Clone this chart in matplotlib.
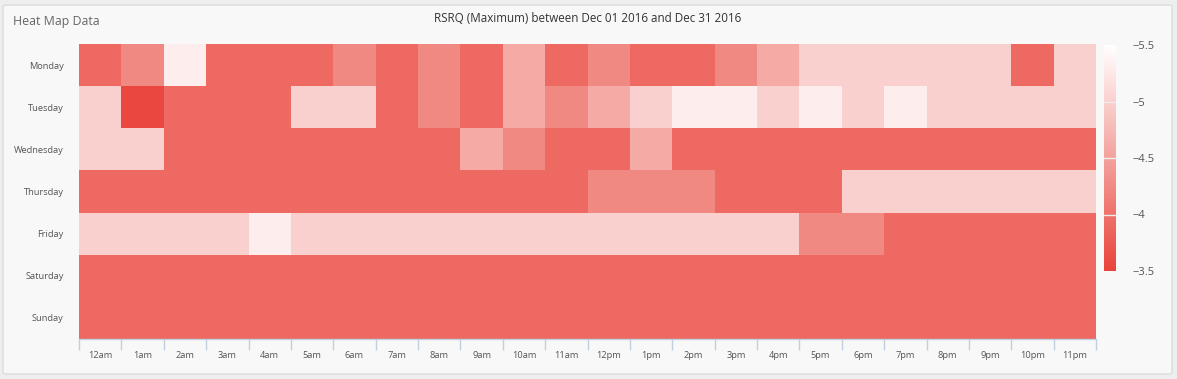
import numpy as np
import matplotlib

matplotlib.use("Agg")
import matplotlib.pyplot as plt
from matplotlib.colors import LinearSegmentedColormap
from matplotlib.patches import FancyBboxPatch

plt.rcParams["font.family"] = ["Open Sans", "DejaVu Sans"]

# --- data -------------------------------------------------------------------
days = ["Monday", "Tuesday", "Wednesday", "Thursday", "Friday", "Saturday", "Sunday"]
hours = ["12am", "1am", "2am", "3am", "4am", "5am", "6am", "7am", "8am", "9am",
         "10am", "11am", "12pm", "1pm", "2pm", "3pm", "4pm", "5pm", "6pm", "7pm",
         "8pm", "9pm", "10pm", "11pm"]

# RSRQ max per weekday/hour (dB)
monday = [-3.9, -4.25, -5.3, -3.9, -3.9, -3.9, -4.25, -3.9, -4.25, -3.9, -4.6, -3.9,
          -4.25, -3.9, -3.9, -4.25, -4.6, -5.0, -5.0, -5.0, -5.0, -5.0, -3.9, -5.0]
tuesday = [-5.0, -3.55, -3.9, -3.9, -3.9, -5.0, -5.0, -3.9, -4.25, -3.9, -4.6, -4.25,
           -4.6, -5.0, -5.3, -5.3, -5.0, -5.3, -5.0, -5.3, -5.0, -5.0, -5.0, -5.0]
wednesday = [-5.0, -5.0, -3.9, -3.9, -3.9, -3.9, -3.9, -3.9, -3.9, -4.6, -4.25, -3.9,
             -3.9, -4.6, -3.9, -3.9, -3.9, -3.9, -3.9, -3.9, -3.9, -3.9, -3.9, -3.9]
thursday = [-3.9, -3.9, -3.9, -3.9, -3.9, -3.9, -3.9, -3.9, -3.9, -3.9, -3.9, -3.9,
            -4.25, -4.25, -4.25, -3.9, -3.9, -3.9, -5.0, -5.0, -5.0, -5.0, -5.0, -5.0]
friday = [-5.0, -5.0, -5.0, -5.0, -5.3, -5.0, -5.0, -5.0, -5.0, -5.0, -5.0, -5.0,
          -5.0, -5.0, -5.0, -5.0, -5.0, -4.25, -4.25, -3.9, -3.9, -3.9, -3.9, -3.9]
saturday = [-3.9] * 24
sunday = [-3.9] * 24

color_min, color_max = -5.5, -3.5
cbar_ticks = [-5.5, -5, -4.5, -4, -3.5]

grid = np.array([monday, tuesday, wednesday, thursday, friday, saturday, sunday])

# --- figure -----------------------------------------------------------------
W, H = 1177, 379
fig = plt.figure(figsize=(W / 100, H / 100), dpi=100)
fig.patch.set_facecolor("#eeeeee")

# card panel (behind the axes)
panel = FancyBboxPatch((3 / W, 5 / H), 1169 / W, 369 / H,
                       boxstyle="round,pad=0,rounding_size=0.004",
                       transform=fig.transFigure, facecolor="#f8f8f8",
                       edgecolor="#dcdcdc", linewidth=1.0, zorder=-10)
fig.patches.append(panel)

fig.text(13 / W, 1 - 21 / H, "Heat Map Data", fontsize=8.9, color="#666666",
         va="center", ha="left")
fig.text(588 / W, 1 - 18 / H, "RSRQ (Maximum) between Dec 01 2016 and Dec 31 2016",
         fontsize=8.4, color="#333333", va="center", ha="center")

cmap = LinearSegmentedColormap.from_list("rsrq", ["#ffffff", "#e8433a"])

ax = fig.add_axes([79 / W, 1 - 339 / H, 1017 / W, 295 / H])
ax.set_facecolor("#f8f8f8")
mesh = ax.pcolormesh(grid, cmap=cmap, vmin=color_min, vmax=color_max)
ax.set_xlim(0, len(hours))
ax.set_ylim(len(days), 0)

for s in ["top", "right", "left"]:
    ax.spines[s].set_visible(False)
ax.spines["bottom"].set_color("#c0d0e0")
ax.spines["bottom"].set_linewidth(1.0)

ax.set_xticks(np.arange(len(hours)) + 0.5)
ax.set_xticklabels(hours, fontsize=6.7, color="#555555")
ax.set_xticks(np.arange(len(hours) + 1), minor=True)
ax.tick_params(axis="x", which="major", length=0, pad=9)
ax.tick_params(axis="x", which="minor", length=8, color="#c0d0e0", width=1)

ax.set_yticks(np.arange(len(days)) + 0.5)
ax.set_yticklabels(days, fontsize=6.7, color="#555555")
ax.tick_params(axis="y", length=0, pad=11)

# colour axis
cax = fig.add_axes([1104 / W, 1 - 271 / H, 12 / W, 226 / H])
cb = fig.colorbar(mesh, cax=cax, ticks=cbar_ticks)
cb.outline.set_visible(False)
cax.invert_yaxis()
cax.tick_params(length=0, pad=12, labelsize=8, labelcolor="#555555")
cax.set_yticklabels(["\u22125.5", "\u22125", "\u22124.5", "\u22124", "\u22123.5"])
for t in cbar_ticks[1:-1]:
    cax.axhline(t, color="#ececec", linewidth=1)

fig.savefig("out.png", dpi=100, facecolor=fig.get_facecolor())
